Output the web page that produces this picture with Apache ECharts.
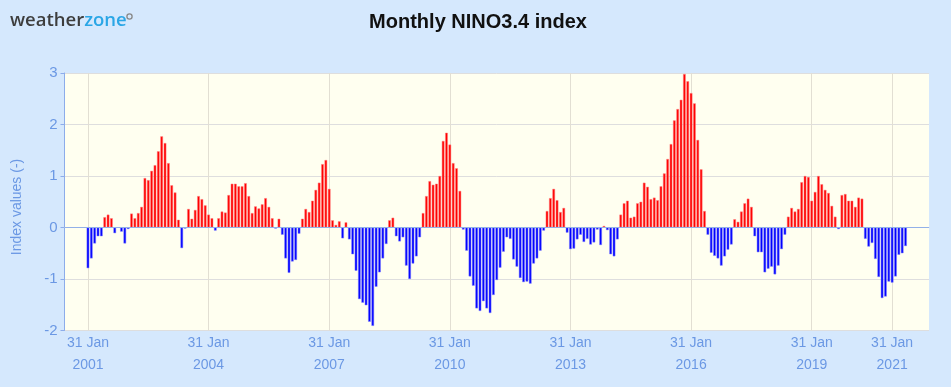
<!DOCTYPE html>
<html>
<head>
<meta charset="utf-8">
<script src="https://cdn.jsdelivr.net/npm/echarts@6/dist/echarts.min.js"></script>
<style>
html,body{margin:0;padding:0;background:#d5e8fd;}
#c{width:951px;height:387px;}
</style>
</head>
<body>
<div id="c"></div>
<script>
// Monthly NINO3.4 index, Jan 2001 .. May 2021
const startYear = 2001;
const values = [
  -0.79,-0.60,-0.31,-0.17,-0.17,0.20,0.25,0.18,-0.11,0.00,-0.08,-0.31,
  -0.03,0.27,0.18,0.28,0.40,0.96,0.92,1.10,1.21,1.48,1.77,1.64,
  1.25,0.82,0.68,0.15,-0.40,-0.02,0.36,0.17,0.34,0.61,0.55,0.43,
  0.25,0.18,-0.06,0.18,0.31,0.29,0.63,0.85,0.85,0.80,0.80,0.86,
  0.61,0.28,0.41,0.37,0.45,0.57,0.40,0.18,-0.02,0.17,-0.14,-0.60,
  -0.88,-0.66,-0.63,-0.12,0.17,0.36,0.30,0.52,0.73,0.87,1.23,1.31,
  0.75,0.14,0.05,0.12,-0.21,0.10,-0.23,-0.52,-0.84,-1.39,-1.46,-1.51,
  -1.83,-1.91,-1.15,-0.87,-0.60,-0.32,0.14,0.19,-0.17,-0.27,-0.19,-0.74,
  -1.00,-0.70,-0.56,-0.19,0.28,0.61,0.90,0.83,0.85,1.00,1.68,1.84,
  1.61,1.25,1.15,0.71,-0.04,-0.45,-0.95,-1.13,-1.57,-1.62,-1.43,-1.57,
  -1.66,-1.31,-1.02,-0.78,-0.47,-0.19,-0.22,-0.62,-0.76,-0.98,-1.06,-1.05,
  -1.09,-0.70,-0.60,-0.45,-0.06,0.32,0.57,0.75,0.53,0.30,0.38,-0.10,
  -0.42,-0.41,-0.23,-0.14,-0.28,-0.22,-0.33,-0.29,-0.04,-0.34,0.03,-0.05,
  -0.52,-0.56,-0.23,0.25,0.47,0.52,0.19,0.21,0.47,0.50,0.87,0.79,
  0.55,0.58,0.53,0.80,1.05,1.33,1.62,2.08,2.30,2.48,2.98,2.84,
  2.61,2.41,1.70,1.13,0.32,-0.14,-0.49,-0.55,-0.60,-0.74,-0.56,-0.43,
  -0.33,0.16,0.11,0.31,0.47,0.56,0.40,-0.17,-0.48,-0.48,-0.87,-0.80,
  -0.76,-0.91,-0.74,-0.42,-0.14,0.21,0.38,0.31,0.36,0.88,1.00,0.98,
  0.52,0.69,1.00,0.84,0.73,0.67,0.42,0.21,-0.03,0.63,0.65,0.52,
  0.52,0.40,0.58,0.56,-0.22,-0.37,-0.30,-0.61,-0.96,-1.37,-1.34,-1.05,
  -1.07,-0.95,-0.53,-0.50,-0.36
];
const tickYears = ['2001','2004','2007','2010','2013','2016','2019','2021'];
const padBefore = 7;   // empty months shown before Jan 2001
const padAfter = 7;    // empty months shown after last value

// build month categories
const categories = [];
for (let k = -padBefore; k < values.length + padAfter; k++) {
  const y = startYear + Math.floor(k / 12);
  const m = ((k % 12) + 12) % 12 + 1;
  categories.push(y + '-' + (m < 10 ? '0' + m : m));
}
const tickSet = new Set(tickYears.map(y => y + '-01'));
const pad = new Array(padBefore).fill(null);
const posData = pad.concat(values.map(v => v >= 0 ? v : null));
const negData = pad.concat(values.map(v => v < 0 ? v : null));

const lblColor = '#6b98e4';
const chart = echarts.init(document.getElementById('c'), null, {renderer: 'canvas'});
const showTick = (idx, val) => tickSet.has(val);

chart.setOption({
  animation: false,
  backgroundColor: '#d5e8fd',
  grid: {left: 64.5, right: 22, top: 73, bottom: 56.5, show: true, backgroundColor: '#fffff0', borderWidth: 0},
  graphic: [
    {type: 'text', x: 478, y: 22, style: {
      text: 'Monthly NINO3.4 index', align: 'center', verticalAlign: 'middle',
      font: 'bold 20px "Liberation Sans", Arial, sans-serif', fill: '#111'}},
    {type: 'text', x: 10, y: 21, style: {
      text: '{a|weather}{b|zone}', verticalAlign: 'middle',
      rich: {
        a: {fontFamily: '"Open Sans", sans-serif', fontSize: 18.5, fontWeight: 600, fill: '#3d3d3d'},
        b: {fontFamily: '"Open Sans", sans-serif', fontSize: 18.5, fontWeight: 600, fill: '#2aa6e6'}
      }}},
    {type: 'circle', shape: {cx: 129.5, cy: 16.5, r: 2.6}, style: {fill: 'none', stroke: '#888', lineWidth: 1.3}},
    {type: 'text', x: 17, y: 207, rotation: Math.PI / 2, style: {
      text: 'Index values (-)', align: 'center', verticalAlign: 'middle',
      font: '14px "Liberation Sans", Arial, sans-serif', fill: lblColor}}
  ],
  xAxis: {
    type: 'category',
    data: categories,
    boundaryGap: false,
    axisLine: {show: true, lineStyle: {color: '#cdd6e2', width: 1}},
    axisTick: {show: false},
    axisLabel: {
      interval: showTick,
      formatter: v => '31 Jan\n' + v.slice(0, 4),
      color: lblColor, fontSize: 14, fontFamily: '"Liberation Sans", Arial, sans-serif',
      lineHeight: 21.5, margin: 2
    },
    splitLine: {show: true, interval: showTick, lineStyle: {color: '#e2dfd3', width: 1}}
  },
  yAxis: {
    type: 'value',
    min: -2, max: 3, interval: 1,
    axisLine: {show: true, lineStyle: {color: '#8cacea', width: 1}},
    axisTick: {show: true, length: 4, lineStyle: {color: '#8cacea'}},
    axisLabel: {color: lblColor, fontSize: 15, fontFamily: '"Liberation Sans", Arial, sans-serif', margin: 7},
    splitLine: {show: true, lineStyle: {color: '#dedede', width: 1}}
  },
  series: [
    {
      type: 'bar', data: posData, barWidth: 2.6, barGap: '-100%',
      itemStyle: {color: '#ff0000', borderColor: '#ff8080', borderWidth: 0.5},
      markLine: {silent: true, symbol: 'none', label: {show: false},
        lineStyle: {color: '#92b0e8', type: 'solid', width: 1.2},
        data: [{yAxis: 0}]},
      z: 3
    },
    {
      type: 'bar', data: negData, barWidth: 2.6, barGap: '-100%',
      itemStyle: {color: '#0000ff', borderColor: '#8080ff', borderWidth: 0.5},
      z: 3
    }
  ]
});
</script>
</body>
</html>
